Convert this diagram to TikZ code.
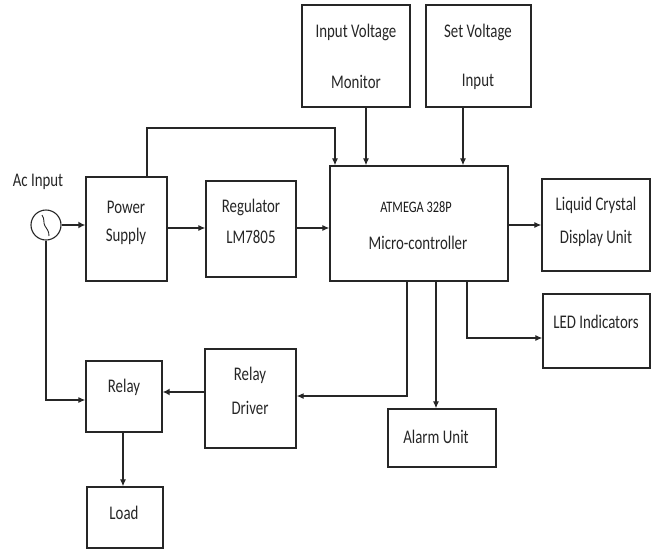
\documentclass[tikz,border=0pt]{standalone}
\usepackage{fontspec}
\setmainfont{Carlito}[FakeStretch=0.77]
\usetikzlibrary{arrows.meta}
\begin{document}
\begin{tikzpicture}[x=1pt,y=-1pt,
  box/.style={draw=black!85, line width=1.4pt, inner sep=0pt, fill=none},
  lbl/.style={font=\fontsize{19.3}{22}\selectfont, text=black!85, inner sep=0pt},
  small/.style={font=\fontsize{16}{19}\selectfont, text=black!90, inner sep=0pt},
  conn/.style={draw=black!85, line width=1.1pt, -{Latex[length=7pt,width=6pt]}},
  thick conn/.style={draw=black!85, line width=2pt, -{Latex[length=7pt,width=7pt]}},
  wire/.style={draw=black!85, line width=1.1pt}]
\useasboundingbox (0,0) rectangle (655,550);
% boxes (centre, size)
\node[box, minimum width=81pt, minimum height=104pt] (ps) at (126.5,229) {};
\node[box, minimum width=90pt, minimum height=96pt] (reg) at (251,229) {};
\node[box, minimum width=178pt, minimum height=115pt] (mc) at (419,223.5) {};
\node[box, minimum width=108pt, minimum height=102pt] (ivm) at (356,56) {};
\node[box, minimum width=105pt, minimum height=102pt] (svi) at (478.5,56) {};
\node[box, minimum width=108pt, minimum height=92pt] (lcd) at (596,225) {};
\node[box, minimum width=107pt, minimum height=74pt] (led) at (596.5,331) {};
\node[box, minimum width=108pt, minimum height=58pt] (alarm) at (442,438) {};
\node[box, minimum width=91pt, minimum height=99pt] (rd) at (250.5,398.5) {};
\node[box, minimum width=76pt, minimum height=71pt] (relay) at (124,396.5) {};
\node[box, minimum width=76pt, minimum height=61pt] (load) at (125,517.5) {};
\node[draw=black!85, line width=1.1pt, circle, minimum size=30pt, inner sep=0pt] (ac) at (46,225) {};
\draw[black!85, line width=0.9pt] (42,215) .. controls (45,219) and (43,223) .. (45,226) .. controls (47,229) and (49,231) .. (49,236);
% labels
\node[lbl] (tac) at (38,182) {Ac Input};
\node[lbl] (tps1) at (126,207) {Power};
\node[lbl] (tps2) at (126,236) {Supply};
\node[lbl] (treg1) at (251,207) {Regulator};
\node[lbl] (treg2) at (251,237) {LM7805};
\node[small] (tmc1) at (416,207) {ATMEGA 328P};
\node[lbl] (tmc2) at (418,243) {Micro-controller};
\node[lbl] (tivm1) at (356,32) {Input Voltage};
\node[lbl] (tivm2) at (356,82) {Monitor};
\node[lbl] (tsvi1) at (478,32) {Set Voltage};
\node[lbl] (tsvi2) at (478,82) {Input};
\node[lbl] (tlcd1) at (596,205) {Liquid Crystal};
\node[lbl] (tlcd2) at (596,238) {Display Unit};
\node[lbl] (tled) at (596,322) {LED Indicators};
\node[lbl] (talarm) at (436,437) {Alarm Unit};
\node[lbl] (trd1) at (250,375) {Relay};
\node[lbl] (trd2) at (250,408) {Driver};
\node[lbl] (trel) at (124,387) {Relay};
\node[lbl] (tload) at (124,513) {Load};
% helper coordinates
\coordinate (ypr) at (0,228);
\coordinate (xps) at (147,0);
\coordinate (ytop) at (0,128);
\coordinate (xfb) at (335,0);
\coordinate (xivm) at (366,0);
\coordinate (xsvi) at (463,0);
\coordinate (ylcd) at (0,225);
\coordinate (xled) at (467,0);
\coordinate (yled) at (0,338);
\coordinate (xal) at (436,0);
\coordinate (xrd) at (407,0);
\coordinate (yrd) at (0,396);
\coordinate (yrr) at (0,392);
\coordinate (yrel) at (0,400);
\coordinate (xload) at (123,0);
% connectors
\draw[thick conn] (ac.east) -- (ps.west |- ac.east);
\draw[conn] (ps.east |- ypr) -- (reg.west |- ypr);
\draw[conn] (reg.east |- ypr) -- (mc.west |- ypr);
\draw[conn] (ps.north -| xps) -- (xps |- ytop) -- (xfb |- ytop) -- (mc.north -| xfb);
\draw[conn] (ivm.south -| xivm) -- (mc.north -| xivm);
\draw[conn] (svi.south -| xsvi) -- (mc.north -| xsvi);
\draw[conn] (mc.east |- ylcd) -- (lcd.west |- ylcd);
\draw[conn] (mc.south -| xled) -- (xled |- yled) -- (led.west |- yled);
\draw[conn] (mc.south -| xal) -- (alarm.north -| xal);
\draw[conn] (mc.south -| xrd) -- (xrd |- yrd) -- (rd.east |- yrd);
\draw[thick conn] (rd.west |- yrr) -- (relay.east |- yrr);
\draw[conn] (ac.south) -- (ac.south |- yrel) -- (relay.west |- yrel);
\draw[conn] (relay.south -| xload) -- (load.north -| xload);
\end{tikzpicture}
\end{document}
